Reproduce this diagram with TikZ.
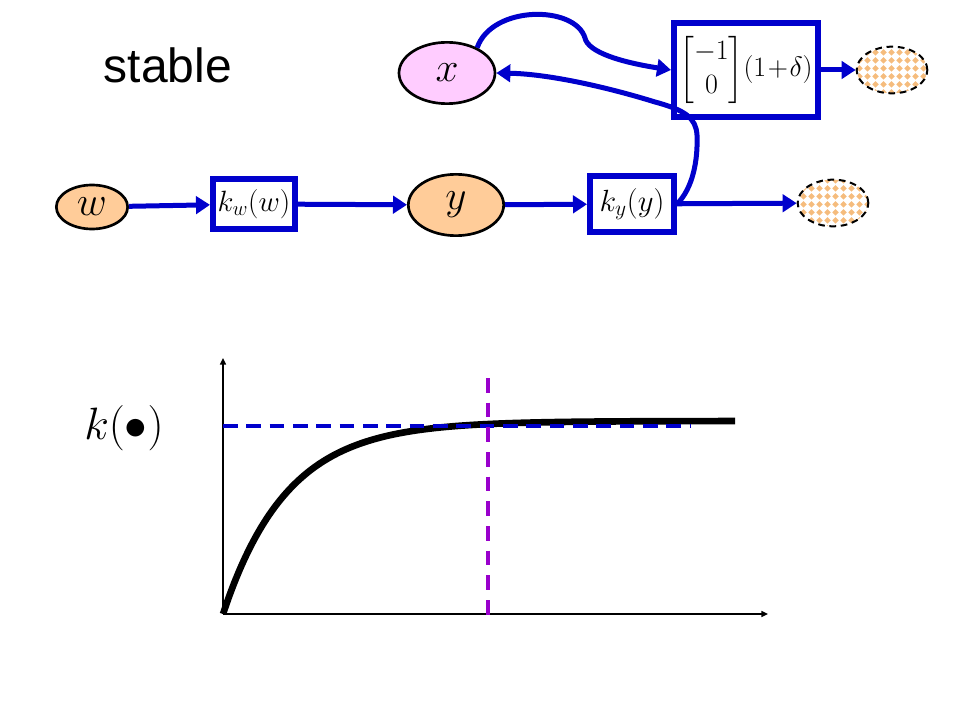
\RequirePackage{fix-cm}
\documentclass[tikz,border=0pt]{standalone}
\usepackage{amsmath}
\usepackage{amssymb}
\usepackage{fontspec}
\usepackage{tikz}
\usetikzlibrary{arrows.meta,shapes.geometric,patterns}
\newfontfamily\arialfont{Liberation Sans}
\definecolor{flowblue}{RGB}{0,0,204}
\definecolor{xpink}{RGB}{255,204,255}
\definecolor{wyorange}{RGB}{255,204,153}
\definecolor{dotorange}{RGB}{245,188,125}
\definecolor{limitpurple}{RGB}{153,0,204}
\pgfdeclarepatternformonly{diamondgrid}{\pgfpointorigin}{\pgfpoint{6pt}{6pt}}{\pgfpoint{6pt}{6pt}}{
  \pgfpathmoveto{\pgfpoint{3pt}{0.3pt}}
  \pgfpathlineto{\pgfpoint{5.7pt}{3pt}}
  \pgfpathlineto{\pgfpoint{3pt}{5.7pt}}
  \pgfpathlineto{\pgfpoint{0.3pt}{3pt}}
  \pgfpathclose
  \pgfusepath{fill}
}

\begin{document}
\begin{tikzpicture}[x=0.75pt,y=-0.75pt,
    state/.style={ellipse,draw=black,line width=2pt,inner sep=0pt},
    block/.style={draw=flowblue,line width=4.5pt,fill=white,inner sep=0pt},
    outstate/.style={ellipse,draw=black,line width=1.5pt,dash pattern=on 5pt off 3.5pt,
                     pattern=diamondgrid,pattern color=dotorange,minimum width=53pt,minimum height=35pt,inner sep=0pt},
    flow/.style={draw=flowblue,line width=3.75pt,-{Triangle[length=10.5pt,width=13pt]}},
    axis/.style={line width=1.1pt,-{Triangle[length=5pt,width=4.5pt]}}]
                      \useasboundingbox (0,0) rectangle (960,720);
                      \node (stable) at (168,65) {\arialfont\fontsize{36}{40}\selectfont stable};
                      \node [state,fill=xpink,minimum width=72pt,minimum height=46pt] (x) at (447,73) {\fontsize{31}{36}\selectfont$x$};
                      \node [state,fill=wyorange,minimum width=53.5pt,minimum height=33pt] (w) at (92,207) {\fontsize{31}{36}\selectfont$w$};
                      \node [state,fill=wyorange,minimum width=71.5pt,minimum height=46pt] (y) at (456,205) {\fontsize{31}{36}\selectfont$y$};
                      \node [block,minimum width=61.5pt,minimum height=38pt] (kw) at (254,204) {\fontsize{22}{26}\selectfont$k_w\!\left(w\right)$};
                      \node [block,minimum width=63pt,minimum height=42pt] (ky) at (632,204) {\fontsize{23}{27}\selectfont$k_y\!\left(y\right)$};
                      \node [block,minimum width=108pt,minimum height=70.5pt] (mat) at (746,70) {\fontsize{21}{25.5}\selectfont$\begin{bmatrix}-1\\0\end{bmatrix}\!(1\!+\!\delta)$};
                      \node [outstate] (upout) at (892,70) {};
                      \node [outstate] (lowout) at (833,203) {};
                      \draw [flow] (w) -- (kw);
                      \draw [flow] (kw) -- (y);
                      \draw [flow] (y) -- (ky);
                      \draw [flow] (ky) -- (lowout);
                      \draw [flow] (mat) -- (upout);
                      \draw [flow] (x.40) .. controls (492,5) and (575,5) .. (585,38) .. controls (588,52) and (620,62) .. (mat.west);
                      \draw [flow] (ky.east) .. controls (693,188) and (698,160) .. (697,135) .. controls (696,118) and (685,110) .. (655,102) .. controls (610,88) and (550,74) .. (x.east);
                      \coordinate (origin) at (223,614);
                      \coordinate (ytop) at (223,358);
                      \coordinate (xend) at (768,614);
                      \draw [axis] (origin) -- (ytop);
                      \draw [axis] (origin) -- (xend);
                      \draw [line width=5pt] plot [domain=0:512,samples=90,smooth] ({223+\x},{614-193*(1-exp(-\x/64))});
                      \draw [flowblue,line width=3pt,dash pattern=on 11pt off 6.5pt] (223,426) -- (690,426);
                      \draw [limitpurple,line width=2.5pt,dash pattern=on 11pt off 7.5pt] (488,378) -- (488,617);
                      \node (klabel) at (124,428) {\fontsize{34}{40}\selectfont$k(\bullet)$};
                  \end{tikzpicture}
\end{document}
